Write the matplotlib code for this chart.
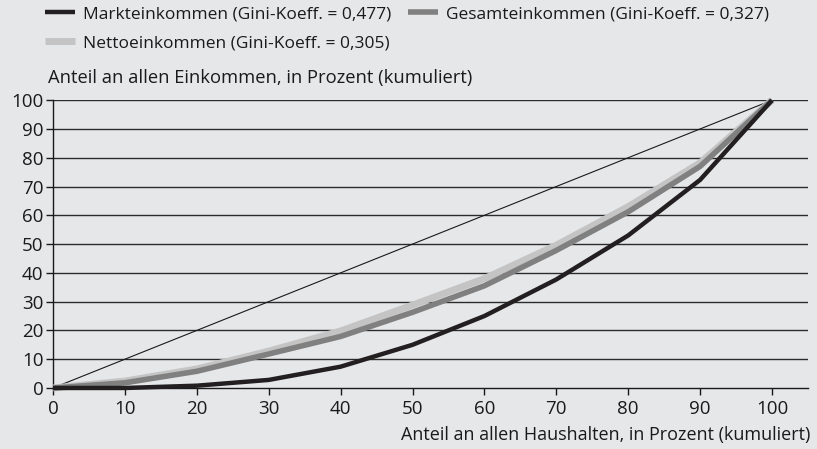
import matplotlib.pyplot as plt

# Lorenz curve data (cumulative share of households vs. share of income, %)
haushalte = [0, 10, 20, 30, 40, 50, 60, 70, 80, 90, 100]
markt = [0, 0, 0.8, 2.8, 7.4, 15.0, 25.0, 37.7, 53.0, 72.3, 100]
gesamt = [0, 1.8, 5.8, 11.8, 17.9, 26.3, 35.5, 47.8, 61.2, 77.0, 100]
netto = [0, 2.4, 6.6, 12.8, 19.8, 28.8, 38.0, 49.6, 63.0, 78.2, 100]

labels = ["Markteinkommen (Gini-Koeff. = 0,477)",
          "Gesamteinkommen (Gini-Koeff. = 0,327)",
          "Nettoeinkommen (Gini-Koeff. = 0,305)"]

bg = "#e6e7e9"
plt.rcParams['font.family'] = ['Open Sans', 'DejaVu Sans']

fig = plt.figure(figsize=(8.17, 4.49), dpi=100, facecolor=bg)
ax = fig.add_axes([0.0649, 0.1359, 0.924, 0.641], facecolor=bg)

# horizontal grid
for yv in range(10, 101, 10):
    ax.axhline(yv, color="#2b2b2b", lw=1.0, zorder=1)

# line of equality
ax.plot([0, 100], [0, 100], color="#1a1a1a", lw=0.8, zorder=2)

l_netto, = ax.plot(haushalte, netto, color="#c4c4c4", lw=5, zorder=3,
                   solid_capstyle="butt", clip_on=False)
l_gesamt, = ax.plot(haushalte, gesamt, color="#808080", lw=4, zorder=4,
                    solid_capstyle="butt", clip_on=False)
l_markt, = ax.plot(haushalte, markt, color="#231f20", lw=3.2, zorder=5,
                   solid_capstyle="butt", clip_on=False)

ax.set_xlim(0, 105)
ax.set_ylim(0, 100)
ax.set_xticks(range(0, 101, 10))
ax.set_yticks(range(0, 101, 10))
ax.spines["top"].set_visible(False)
ax.spines["right"].set_visible(False)
for s in ("left", "bottom"):
    ax.spines[s].set_color("#1a1a1a")
    ax.spines[s].set_linewidth(1.0)
ax.tick_params(axis="both", labelsize=13.5, colors="#1a1a1a", width=1.0,
               length=5, pad=4)
ax.tick_params(axis="y", direction="out", pad=2)

fig.text(48 / 817, 1 - 78 / 449, "Anteil an allen Einkommen, in Prozent (kumuliert)",
         fontsize=13.2, color="#1a1a1a", va="center", ha="left")
fig.text(810 / 817, 1 - 435 / 449, "Anteil an allen Haushalten, in Prozent (kumuliert)",
         fontsize=13.0, color="#1a1a1a", va="center", ha="right")

leg = fig.legend([l_markt, l_netto, l_gesamt], [labels[0], labels[2], labels[1]],
                 ncol=2, loc="upper left", bbox_to_anchor=(45 / 817, 1 - 6 / 449),
                 frameon=False, fontsize=12.5, handlelength=1.72,
                 handletextpad=0.46, columnspacing=1.0, labelspacing=0.75,
                 borderaxespad=0, borderpad=0)
for t in leg.get_texts():
    t.set_color("#1a1a1a")

fig.savefig("out.png", dpi=100, facecolor=bg)
